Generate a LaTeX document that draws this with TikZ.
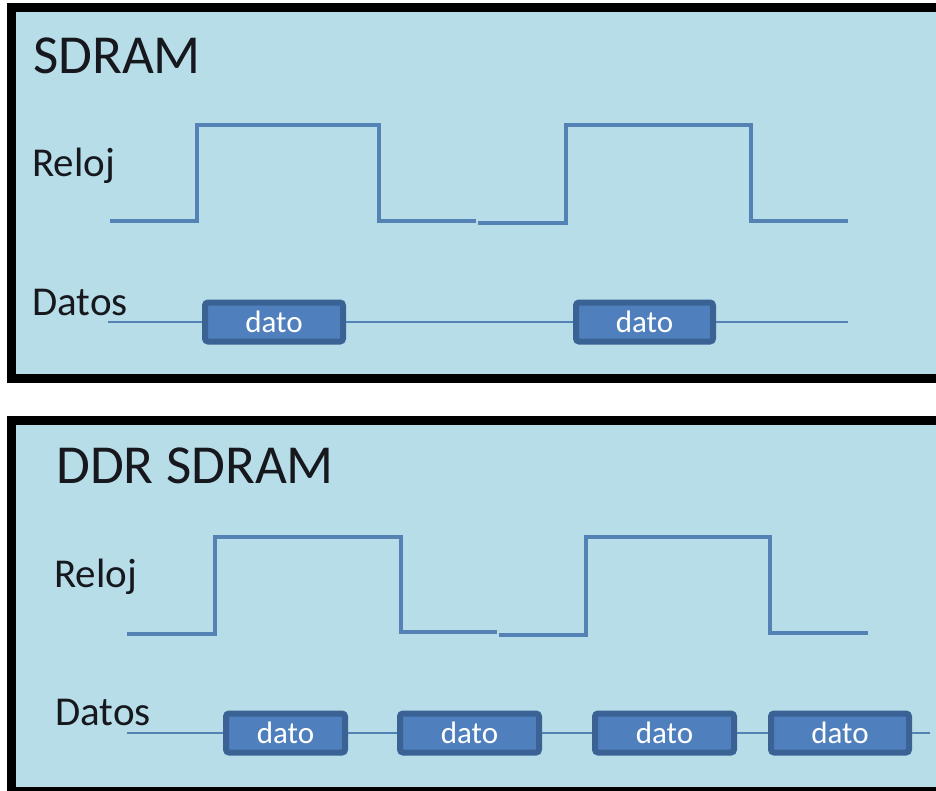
\documentclass[tikz,border=0pt]{standalone}
\usepackage{fontspec}
\setmainfont{Carlito}
\definecolor{panelbg}{HTML}{B7DDE8}
\definecolor{wave}{HTML}{5582B5}
\definecolor{boxedge}{HTML}{3A6294}
\definecolor{boxfill}{HTML}{4F80BD}
\definecolor{ink}{HTML}{16181E}
\tikzset{
  panel/.style={draw=black, fill=panelbg, line width=9pt},
  title/.style={anchor=base west, inner sep=0pt, text=ink, font=\fontsize{55}{62}\selectfont},
  sig/.style={anchor=base west, inner sep=0pt, text=ink, font=\fontsize{41}{48}\selectfont},
  clock/.style={draw=wave, line width=3.2pt, line join=miter},
  dataline/.style={draw=wave, line width=2.4pt},
  datobox/.style={draw=boxedge, fill=boxfill, line width=6pt, rounded corners=3pt,
    minimum height=39pt, inner sep=0pt, text=white, font=\fontsize{31}{34}\selectfont},
}
\begin{document}
\begin{tikzpicture}[x=1pt,y=-1pt]
\useasboundingbox (0,0) rectangle (936,790);
\clip (0,0) rectangle (936,790);
\fill[white] (0,0) rectangle (936,790);

% ---- SDRAM panel ----
\draw[panel] (11,7.5) rectangle (950,378.5);
\node[title] (t1) at (33,73) {SDRAM};
\node[sig] (r1) at (32,176) {Reloj};
\node[sig] (d1) at (32,315) {Datos};

\draw[clock] (110,221) -- (197,221) -- (197,125) -- (379,125) -- (379,221) -- (476,221);
\draw[clock] (478,223) -- (566,223) -- (566,125) -- (751,125) -- (751,221) -- (848,221);

\node[datobox, minimum width=138pt] (b11) at (274,322) {dato};
\node[datobox, minimum width=137pt] (b12) at (644.5,322) {dato};
\coordinate (ds1) at (108,322);
\coordinate (de1) at (848,322);
\draw[dataline] (ds1) -- (b11.west) (b11.east) -- (b12.west) (b12.east) -- (de1);

% ---- DDR SDRAM panel ----
\draw[panel] (11,420) rectangle (950,791);
\node[title] (t2) at (56,483) {DDR SDRAM};
\node[sig] (r2) at (54,587) {Reloj};
\node[sig] (d2) at (55,725) {Datos};

\draw[clock] (127,634) -- (215,634) -- (215,537) -- (401,537) -- (401,632) -- (497,632);
\draw[clock] (499,635) -- (586,635) -- (586,537) -- (770,537) -- (770,633) -- (868,633);

\node[datobox, minimum width=119pt] (b21) at (285.5,733) {dato};
\node[datobox, minimum width=139pt] (b22) at (469.5,733) {dato};
\node[datobox, minimum width=139pt] (b23) at (664.5,733) {dato};
\node[datobox, minimum width=138pt] (b24) at (840,733) {dato};
\coordinate (ds2) at (127,733);
\coordinate (de2) at (930,733);
\draw[dataline] (ds2) -- (b21.west) (b21.east) -- (b22.west) (b22.east) -- (b23.west)
  (b23.east) -- (b24.west) (b24.east) -- (de2);
\end{tikzpicture}
\end{document}
